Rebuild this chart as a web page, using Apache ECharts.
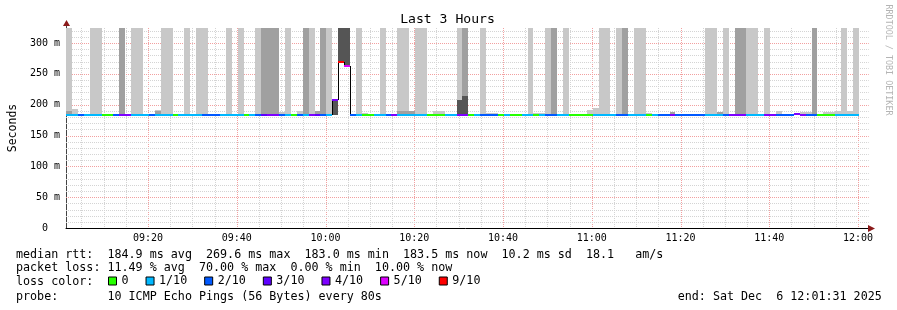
<!DOCTYPE html>
<html><head><meta charset="utf-8">
<script src="https://cdn.jsdelivr.net/npm/echarts@6/dist/echarts.min.js"></script>
<style>html,body{margin:0;padding:0;background:#fff}#c{width:897px;height:310px}</style>
</head><body><div id="c"></div>
<script>
// ---- time frame (minutes since 00:00) ----
const startMin = 9 * 60 + 1 + 31 / 60;   // 09:01:31
const stepMin = 80 / 60;                 // 80 s probe step
const totalSteps = 135;

// ---- median rtt per step (ms) ----
const median = [
183.8,183.8,183.0,183.8,183.8,183.8,183.8,183.8,183.8,183.8,
183.8,183.8,183.8,183.8,183.8,183.8,183.8,183.8,183.8,183.8,
183.8,183.8,183.8,183.8,183.8,183.0,183.8,183.8,183.8,183.8,
183.8,183.8,183.8,183.0,183.8,183.8,183.8,183.8,183.8,183.8,
183.8,183.8,183.0,183.8,183.8,207.6,269.7,262.7,183.8,183.8,
183.8,183.0,183.8,183.8,183.8,183.8,183.8,183.8,183.8,183.8,
183.8,183.8,183.8,183.8,183.8,183.8,183.8,183.8,183.8,183.8,
183.0,183.0,183.0,183.8,183.8,183.8,183.8,183.8,183.8,183.8,
183.8,183.0,183.8,183.8,183.8,183.8,183.8,183.8,183.8,183.8,
183.8,183.0,183.0,183.8,183.8,183.8,183.0,183.0,183.8,183.8,
183.8,183.8,183.0,183.0,183.8,183.8,183.8,183.0,183.0,183.0,
183.8,183.8,183.8,183.0,183.8,183.8,183.8,183.8,183.8,183.8,
183.8,183.8,183.8,184.6,183.8,183.8,183.0,183.0,183.8,183.8,
183.8,183.8,183.8,183.5
];
// ---- lost pings per step (of 10) ----
const lost = [
1,1,2,1,1,1,0,0,2,4,
4,1,1,1,2,1,1,1,0,1,
1,1,1,2,2,2,1,1,1,1,
0,1,2,3,4,4,2,1,0,2,
1,4,3,2,1,4,7,5,2,1,
0,0,1,1,2,4,1,1,1,1,
1,0,0,0,1,1,4,4,0,1,
2,2,2,0,1,0,0,1,1,0,
1,2,2,1,1,0,0,0,0,1,
1,1,1,2,2,1,1,1,0,1,
2,2,4,2,2,2,2,2,1,1,
1,2,4,4,4,1,1,1,4,4,
2,2,2,4,4,2,2,0,0,0,
1,1,1,1
];
// ---- smoke (ping spread) per step, ms; 0 = none, 400 = beyond top ----
const smokeLow = [
183,183,183,183,183,183,183,183,183,183,
183,183,183,183,183,183,183,183,183,183,
183,183,183,183,183,183,183,183,183,183,
183,183,183,183,183,183,183,183,183,183,
183,183,183,183,183,183,269.7,262.7,183,183,
183,183,183,183,183,183,183,183,183,183,
183,183,183,183,183,183,183,183,183,183,
183,183,183,183,183,183,183,183,183,183,
183,183,183,183,183,183,183,183,183,183,
183,183,183,183,183,183,183,183,183,183,
183,183,183,183,183,183,183,183,183,183,
183,183,183,183,183,183,183,183,183,183,
183,183,183,183,183,183,183,183,183,183,
183,183,183,183
];
const smokeLight = [
400,193,0,0,400,400,0,0,0,0,
0,400,400,0,0,191,400,400,0,0,
400,0,400,400,0,0,0,400,0,400,
0,0,400,0,0,0,188,400,0,190,
0,400,0,0,400,0,0,0,0,400,
187,0,0,400,0,0,400,400,0,400,
400,0,190,190,0,0,400,0,0,0,
400,186,186,0,0,0,0,0,400,187,
187,400,0,0,400,0,0,0,191,194,
400,400,0,400,0,0,400,400,187,0,
0,0,0,0,0,0,0,0,400,400,
0,400,0,0,0,400,400,0,400,0,
189,0,0,0,188,188,0,0,188,188,
190,400,190,400
];
const smokeMid = [
189,0,0,0,0,0,0,0,0,400,
0,0,0,0,0,190,0,0,0,0,
0,0,0,0,0,0,0,0,0,0,
0,0,0,400,400,400,0,0,0,0,
400,0,190,400,0,0,0,0,0,0,
0,0,0,0,0,0,190,190,190,0,
0,0,0,0,0,0,0,400,0,0,
0,0,0,0,0,0,0,0,0,0,
0,0,400,0,0,0,0,0,0,0,
0,0,0,0,400,0,0,0,0,0,
0,0,188,0,0,0,0,0,0,0,
188,0,0,400,400,0,0,0,0,0,
0,0,0,0,0,0,400,0,0,0,
0,0,0,0
];
const smokeDark = [
0,0,0,0,0,0,0,0,0,0,
0,0,0,0,0,0,0,0,0,0,
0,0,0,0,0,0,0,0,0,0,
0,0,0,0,0,0,0,0,0,0,
0,0,0,0,0,207.6,400,400,0,0,
0,0,0,0,0,0,0,0,0,0,
0,0,0,0,0,0,208,214,0,0,
0,0,0,0,0,0,0,0,0,0,
0,0,0,0,0,0,0,0,0,0,
0,0,0,0,0,0,0,0,0,0,
0,0,0,0,0,0,0,0,0,0,
0,0,0,0,0,0,0,0,0,0,
0,0,0,0,0,0,0,0,0,0,
0,0,0,0
];

// ---- loss colour legend ----
const lossLimits = [0, 1, 2, 3, 4, 5, 9];
const lossLabels = ['0', '1/10', '2/10', '3/10', '4/10', '5/10', '9/10'];
const lossColors = ['#26ff00', '#00b8ff', '#0059ff', '#5e00ff', '#7e00ff', '#dd00ff', '#ff0000'];

// ---- axis ticks ----
const xLabelTimes = ['09:20', '09:40', '10:00', '10:20', '10:40', '11:00', '11:20', '11:40', '12:00'];
const xMinorTimes = ['09:05','09:10','09:15','09:25','09:30','09:35','09:45','09:50','09:55','10:05','10:10','10:15',
  '10:25','10:30','10:35','10:45','10:50','10:55','11:05','11:10','11:15','11:25','11:30','11:35','11:45','11:50','11:55'];
const yMajorTicks = [50, 100, 150, 200, 250, 300];
const yMinorTicks = [10,20,30,40,60,70,80,90,110,120,130,140,160,170,180,190,210,220,230,240,260,270,280,290,310,320];
const yLabelValues = [0, 50, 100, 150, 200, 250, 300];

// ---- text ----
const titleText = 'Last 3 Hours';
const statLines = [
  'median rtt:  184.9 ms avg  269.6 ms max  183.0 ms min  183.5 ms now  10.2 ms sd  18.1   am/s',
  'packet loss: 11.49 % avg  70.00 % max  0.00 % min  10.00 % now',
  'loss color:',
  'probe:       10 ICMP Echo Pings (56 Bytes) every 80s'
];
const endText = 'end: Sat Dec  6 12:01:31 2025';
const sideText = 'RRDTOOL / TOBI OETIKER';

const MONO = '"DejaVu Sans Mono", "Liberation Mono", monospace';
const toMin = s => { const p = s.split(':'); return (+p[0]) * 60 + (+p[1]); };
const fmtTime = v => { const m = Math.round(v); const h = Math.floor(m / 60), mm = m % 60; return String(h).padStart(2, '0') + ':' + String(mm).padStart(2, '0'); };
const levelOf = l => { for (let i = 0; i < lossLimits.length; i++) if (l <= lossLimits[i]) return i; return lossLimits.length - 1; };

// ---- build series data ----
const stepData = median.map((m, k) => [startMin + k * stepMin, startMin + (k + 1) * stepMin, m,
  k > 0 ? median[k - 1] : NaN, smokeLow[k], smokeLight[k], smokeMid[k], smokeDark[k], lost[k]]);

const gridData = [];
xMinorTimes.forEach(t => gridData.push([0, toMin(t), 0]));
xLabelTimes.forEach(t => gridData.push([0, toMin(t), 1]));
yMinorTicks.forEach(v => gridData.push([1, v, 0]));
yMajorTicks.forEach(v => gridData.push([1, v, 1]));

function csRect(p) { return { x: p.coordSys.x, y: p.coordSys.y, width: p.coordSys.width, height: p.coordSys.height }; }

function gridRender(params, api) {
  const cs = params.coordSys;
  const orient = api.value(0), v = api.value(1), major = api.value(2);
  const style = { stroke: major ? '#f2a0a0' : '#d4d4d4', lineWidth: 1, lineDash: [1, 1] };
  if (orient === 0) {
    const x = Math.round(api.coord([v, 0])[0]) + 0.5;
    return { type: 'line', shape: { x1: x, y1: cs.y, x2: x, y2: cs.y + cs.height }, style };
  }
  const y = Math.round(api.coord([startMin, v])[1]) + 0.5;
  return { type: 'line', shape: { x1: cs.x, y1: y, x2: cs.x + cs.width + 4, y2: y }, style };
}

function smokeRender(params, api) {
  const x0 = Math.round(api.coord([api.value(0), 0])[0]);
  const x1 = Math.round(api.coord([api.value(1), 0])[0]);
  const low = api.value(4);
  const layers = [[5, '#c8c8c8'], [6, '#a0a0a0'], [7, '#555555']];
  const children = [];
  layers.forEach(([dim, color]) => {
    const top = api.value(dim);
    if (!(top > 0)) return;
    const yb = Math.round(api.coord([0, low])[1]);
    const yt = Math.round(api.coord([0, top])[1]);
    const r = echarts.graphic.clipRectByRect({ x: x0, y: yt, width: x1 - x0, height: yb - yt }, csRect(params));
    if (r) children.push({ type: 'rect', shape: r, style: { fill: color } });
  });
  return { type: 'group', children };
}

function medianBlackRender(params, api) {
  const x0 = Math.round(api.coord([api.value(0), 0])[0]);
  const x1 = Math.round(api.coord([api.value(1), 0])[0]);
  const y = Math.round(api.coord([0, api.value(2)])[1]);
  const children = [{ type: 'line', shape: { x1: x0, y1: y + 0.5, x2: x1, y2: y + 0.5 }, style: { stroke: '#000', lineWidth: 1 } }];
  const prev = api.value(3);
  if (!isNaN(prev)) {
    const yp = Math.round(api.coord([0, prev])[1]);
    children.push({ type: 'line', shape: { x1: x0 + 0.5, y1: yp, x2: x0 + 0.5, y2: y + 1 }, style: { stroke: '#000', lineWidth: 1 } });
  }
  return { type: 'group', children };
}

function lossRender(params, api) {
  const x0 = Math.round(api.coord([api.value(0), 0])[0]);
  const x1 = Math.round(api.coord([api.value(1), 0])[0]);
  const y = Math.round(api.coord([0, api.value(2)])[1]);
  return { type: 'line', shape: { x1: x0, y1: y, x2: x1, y2: y }, style: { stroke: api.visual('color'), lineWidth: 2 } };
}

const series = [
  { type: 'custom', name: 'grid', renderItem: gridRender, data: gridData, z: 1, silent: true, clip: false },
  { type: 'custom', name: 'smoke', renderItem: smokeRender, data: stepData, z: 2, silent: true },
  { type: 'custom', name: 'median', renderItem: medianBlackRender, data: stepData, z: 3, silent: true }
];
lossLabels.forEach((lab, i) => {
  series.push({
    type: 'custom', name: lab, renderItem: lossRender, z: 4, silent: true,
    itemStyle: { color: lossColors[i] },
    data: stepData.filter(d => levelOf(d[8]) === i)
  });
});

const chart = echarts.init(document.getElementById('c'), null, { renderer: 'canvas' });
const gLeft = 66, gTop = 28, gWidth = 798.75, gHeight = 200;
chart.setOption({
  backgroundColor: '#ffffff',
  animation: false,
  grid: { left: gLeft, top: gTop, width: gWidth, height: gHeight, containLabel: false, outerBoundsMode: 'none' },
  xAxis: {
    type: 'value', min: startMin, max: startMin + totalSteps * stepMin,
    axisLine: { show: true, lineStyle: { color: '#000', width: 1 } },
    axisTick: { show: false }, splitLine: { show: false },
    axisLabel: { customValues: xLabelTimes.map(toMin), formatter: fmtTime, fontFamily: MONO, fontSize: 10, color: '#000', margin: 5 }
  },
  yAxis: {
    type: 'value', min: 0, max: gHeight / (185 / 300),
    name: 'Seconds', nameLocation: 'middle', nameGap: 47, nameRotate: 90,
    nameTextStyle: { fontFamily: MONO, fontSize: 11.5, color: '#000' },
    axisLine: { show: true, lineStyle: { color: '#444', width: 1 } },
    axisTick: { show: false }, splitLine: { show: false },
    axisLabel: { customValues: yLabelValues, formatter: v => v === 0 ? '0  ' : v + ' m', fontFamily: MONO, fontSize: 10, color: '#000', margin: 6 }
  },
  legend: {
    data: lossLabels, left: 108, top: 275, icon: 'rect', itemWidth: 8, itemHeight: 8, itemGap: 17,
    selectedMode: false, padding: 0,
    itemStyle: { borderColor: '#000', borderWidth: 1 },
    textStyle: { fontFamily: MONO, fontSize: 11.7, color: '#000' }
  },
  graphic: [
    { type: 'text', x: 447.5, y: 20, style: { text: titleText, font: '13.1px ' + MONO, fill: '#000', textAlign: 'center', textVerticalAlign: 'middle' } },
    { type: 'text', x: 16, y: 254.7, style: { text: statLines[0], font: '11.7px ' + MONO, fill: '#000', textVerticalAlign: 'middle' } },
    { type: 'text', x: 16, y: 268.3, style: { text: statLines[1], font: '11.7px ' + MONO, fill: '#000', textVerticalAlign: 'middle' } },
    { type: 'text', x: 16, y: 282, style: { text: statLines[2], font: '11.7px ' + MONO, fill: '#000', textVerticalAlign: 'middle' } },
    { type: 'text', x: 16, y: 296.5, style: { text: statLines[3], font: '11.7px ' + MONO, fill: '#000', textVerticalAlign: 'middle' } },
    { type: 'text', x: 677.7, y: 296.5, style: { text: endText, font: '11.7px ' + MONO, fill: '#000', textVerticalAlign: 'middle' } },
    { type: 'text', x: 888.5, y: 60, rotation: -Math.PI / 2, style: { text: sideText, font: '8.4px ' + MONO, fill: '#b4b4b4', textAlign: 'center', textVerticalAlign: 'middle' } },
    { type: 'line', shape: { x1: 864, y1: 228.5, x2: 869, y2: 228.5 }, style: { stroke: '#000', lineWidth: 1 } },
    { type: 'polygon', shape: { points: [[868, 225], [875, 228.5], [868, 232]] }, style: { fill: '#8b1a1a' } },
    { type: 'line', shape: { x1: 66.5, y1: 24, x2: 66.5, y2: 29 }, style: { stroke: '#444', lineWidth: 1 } },
    { type: 'polygon', shape: { points: [[63, 26], [66.5, 20], [70, 26]] }, style: { fill: '#8b1a1a' } }
  ],
  series
});
</script></body></html>
